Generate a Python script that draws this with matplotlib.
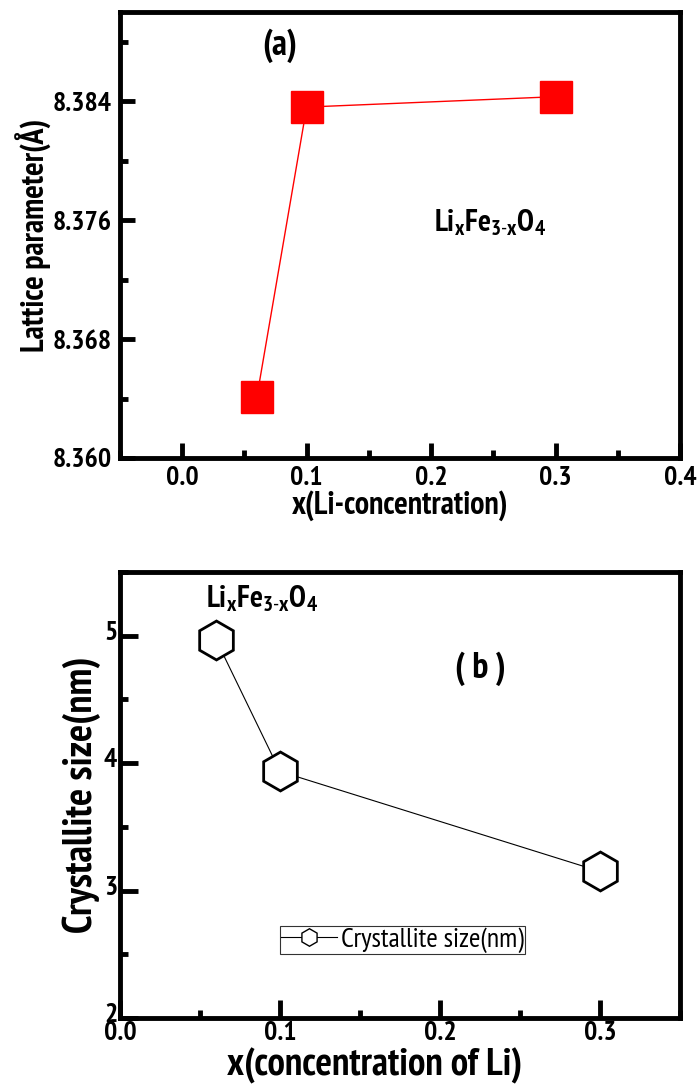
import matplotlib
matplotlib.use("Agg")
import matplotlib.pyplot as plt
import matplotlib.transforms as mtransforms
from matplotlib.ticker import MultipleLocator, FormatStrFormatter

FONT = ['PT Sans Narrow', 'Liberation Sans', 'DejaVu Sans']
plt.rcParams['font.family'] = FONT
plt.rcParams['mathtext.fontset'] = 'custom'
plt.rcParams['mathtext.bf'] = 'PT Sans Narrow:bold'
plt.rcParams['mathtext.rm'] = 'PT Sans Narrow'

# Panel (a) data
x_a = [0.06, 0.10, 0.30]
lattice = [8.3641, 8.3836, 8.3843]
# Panel (b) data
x_b = [0.06, 0.10, 0.30]
cryst = [4.97, 3.935, 3.15]

fig = plt.figure(figsize=(7.0, 10.85), dpi=100)
ax1 = fig.add_axes([0.1714, 0.5779, 0.8, 0.4111])
ax2 = fig.add_axes([0.1714, 0.06175, 0.8, 0.4111])

for ax in (ax1, ax2):
    for s in ax.spines.values():
        s.set_linewidth(3.5)

# ---- Panel a
ax1.plot(x_a, lattice, color='red', lw=1, marker='s', ms=23, mfc='red', mec='red')
ax1.set_xlim(-0.05, 0.4)
ax1.set_ylim(8.36, 8.39)
ax1.xaxis.set_major_locator(MultipleLocator(0.1))
ax1.xaxis.set_minor_locator(MultipleLocator(0.05))
ax1.yaxis.set_major_locator(MultipleLocator(0.008))
ax1.yaxis.set_minor_locator(MultipleLocator(0.004))
ax1.xaxis.set_major_formatter(FormatStrFormatter('%.1f'))
ax1.yaxis.set_major_formatter(FormatStrFormatter('%.3f'))
ax1.tick_params(which='major', direction='in', length=11, width=3.5, labelsize=20, pad=6,
                top=False, right=False)
ax1.tick_params(which='minor', direction='in', length=6, width=3.5, top=False, right=False)
for lab in ax1.get_xticklabels() + ax1.get_yticklabels():
    lab.set_fontweight('bold')
ax1.set_xlabel('x(Li-concentration)', fontsize=23, fontweight='bold', labelpad=0)
ax1.set_ylabel('Lattice parameter(Å)', fontsize=23, fontweight='bold', labelpad=0)
ax1.text(0.285, 0.925, '(a)', transform=ax1.transAxes, fontsize=26, fontweight='bold',
         ha='center', va='center')
ax1.text(0.66, 0.527, r'$\mathbf{Li_{x}Fe_{3\text{-}x}O_{4}}$', transform=ax1.transAxes,
         fontsize=22, ha='center', va='center')

# ---- Panel b
ax2.plot(x_b, cryst, color='black', lw=0.8, marker='h', ms=28, mfc='white', mec='black',
         mew=2, label='Crystallite size(nm)')
ax2.set_xlim(0, 0.35)
ax2.set_ylim(2, 5.5)
ax2.xaxis.set_major_locator(MultipleLocator(0.1))
ax2.xaxis.set_minor_locator(MultipleLocator(0.05))
ax2.yaxis.set_major_locator(MultipleLocator(1))
ax2.yaxis.set_minor_locator(MultipleLocator(0.5))
ax2.xaxis.set_major_formatter(FormatStrFormatter('%.1f'))
ax2.yaxis.set_major_formatter(FormatStrFormatter('%d'))
ax2.tick_params(which='major', direction='in', length=13, width=3.5, labelsize=20, pad=2,
                top=False, right=False)
ax2.tick_params(which='minor', direction='in', length=6, width=3.5, top=False, right=False)
shift = mtransforms.ScaledTranslation(0, 4 / 72, fig.dpi_scale_trans)
for lab in ax2.get_yticklabels():
    lab.set_fontweight('bold')
    lab.set_transform(lab.get_transform() + shift)
for lab in ax2.get_xticklabels():
    lab.set_fontweight('bold')
ax2.set_xlabel('x(concentration of Li)', fontsize=28, fontweight='bold', labelpad=2)
ax2.xaxis.label.set_x(0.455)
ax2.set_ylabel('Crystallite size(nm)', fontsize=29, fontweight='bold', labelpad=2)
ax2.text(0.643, 0.784, '( b )', transform=ax2.transAxes, fontsize=26, fontweight='bold',
         ha='center', va='center')
ax2.text(0.253, 0.94, r'$\mathbf{Li_{x}Fe_{3\text{-}x}O_{4}}$', transform=ax2.transAxes,
         fontsize=22, ha='center', va='center')
leg = ax2.legend(loc='center', bbox_to_anchor=(0.504, 0.175), fontsize=20, markerscale=0.45,
                 frameon=True, fancybox=False, edgecolor='black', handlelength=2.0,
                 handletextpad=0.15, borderpad=0.05, borderaxespad=0)
leg.get_frame().set_linewidth(0.8)
for h in leg.legend_handles:
    h.set_markeredgewidth(1)

fig.savefig('out.png', dpi=100)
